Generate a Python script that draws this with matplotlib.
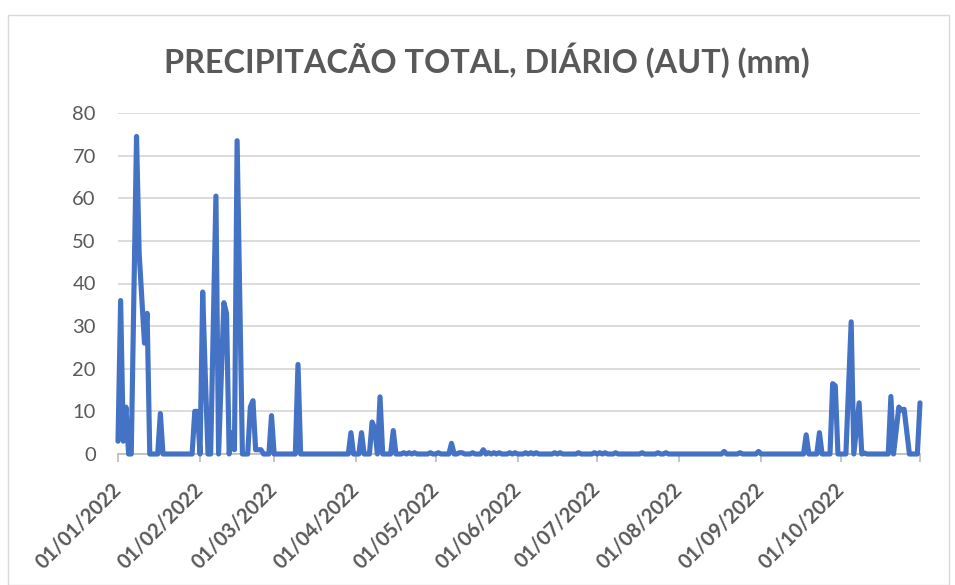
import numpy as np
import matplotlib
matplotlib.use("Agg")
import matplotlib.pyplot as plt
import matplotlib.dates as mdates
from matplotlib.patches import Rectangle
import datetime as dt

nan = np.nan
title = "PRECIPITACÃO TOTAL, DIÁRIO (AUT) (mm)"
start_date = "2022-01-01"

jan = [3, 36, 3, 11, 0, 0, nan, 74.5, 47, nan, 26, 33, 0, 0, 0, 0, 9.5, 0,
       0, 0, 0, 0, 0, 0, 0, 0, 0, 0, 0, 10, 10]
feb = [0, 38, 18, 0, 0, nan, 60.5, 0, nan, 35.5, 33, 0, 5, 1, 73.5, nan, 0, 0,
       0, 11, 12.5, 1, 1, 1, 0, 0, 0, 9]
mar = [0, 0, 0, 0, 0, 0, 0, 0, 0, 21, 0, 0, 0, 0, 0, 0, 0, 0, 0, 0, 0, 0, 0,
       0, 0, 0, 0, 0, 0, 5, 0]
apr = [0, 0, 5, 0, 0, 0, 7.5, 6, 0, 13.4, 0, 0, 0, 0, 5.5, 0, 0, 0, 0.3, 0,
       0.3, 0, 0.3, 0, 0, 0, 0, 0, 0.3, 0]
may = [0, 0.3, 0, 0, 0, 0, 2.5, 0, 0, 0.3, 0.3, 0, 0, 0, 0.3, 0, 0, 0, 1, 0,
       0.3, 0, 0.3, 0, 0.3, 0, 0, 0, 0.3, 0, 0.3]
jun = [0, 0, 0, 0.3, 0, 0.3, 0, 0.3, 0, 0, 0, 0, 0, 0, 0.3, 0, 0.3, 0, 0, 0,
       0, 0, 0, 0.3, 0, 0, 0, 0, 0, 0.3]
jul = [0, 0.3, 0, 0.3, 0, 0, 0, 0.3, 0, 0, 0, 0, 0, 0, 0, 0, 0, 0.3, 0, 0, 0,
       0, 0, 0.3, 0, 0, 0.3, 0, 0, 0, 0]
aug = [0, 0, 0, 0, 0, 0, 0, 0, 0, 0, 0, 0, 0, 0, 0, 0, 0, 0.6, 0, 0, 0, 0, 0,
       0.3, 0, 0, 0, 0, 0, 0, 0.6]
sep = [0, 0, 0, 0, 0, 0, 0, 0, 0, 0, 0, 0, 0, 0, 0, 0, 0, 4.5, 0, 0, 0, 0, 5,
       0, 0, 0, 0, 16.5, 16, 0]
oct_ = [0, 0, 0, nan, 31, 0, nan, 12, 0, 0.2, 0, 0, 0, 0, 0, 0, 0, 0, 0, 13.5,
        0, nan, 11, 10.3, 10.5, nan, 0, 0, 0, 0, 12]

y_ticks = [0, 10, 20, 30, 40, 50, 60, 70, 80]

values = np.array(jan + feb + mar + apr + may + jun + jul + aug + sep + oct_, dtype=float)
dates = np.array([np.datetime64(start_date) + np.timedelta64(i, "D") for i in range(len(values))])
mask = ~np.isnan(values)
xd = mdates.date2num(dates.astype("datetime64[D]").astype(dt.datetime))

W, H = 955, 585
fig = plt.figure(figsize=(W / 100, H / 100), dpi=100)
fig.patches.append(Rectangle((8 / W, 0), (949 - 8) / W, (585 - 15) / H, transform=fig.transFigure,
                             fill=False, edgecolor="#d9d9d9", lw=1.0))

ax = fig.add_axes([118 / W, (H - 454) / H, (920 - 118) / W, (454 - 113) / H])
ax.plot(xd[mask], values[mask], color="#4472C4", lw=3.7, solid_joinstyle="round",
        solid_capstyle="round", zorder=3, clip_on=False)

ax.set_ylim(0, 80)
ax.set_yticks(y_ticks)
ax.set_xlim(xd[0], xd[-1])
ax.grid(axis="y", color="#d9d9d9", lw=1.3)
ax.set_axisbelow(True)
for s in ["top", "right", "left"]:
    ax.spines[s].set_visible(False)
ax.spines["bottom"].set_color("#bfbfbf")
ax.spines["bottom"].set_linewidth(1.3)

month_ticks = [mdates.date2num(dt.datetime(2022, m, 1)) for m in range(1, 11)]
ax.set_xticks(month_ticks + [xd[-1]])
ax.set_xticklabels([mdates.num2date(t).strftime("%d/%m/%Y") for t in month_ticks] + [""],
                   rotation=45, ha="right", va="center", rotation_mode="anchor",
                   fontsize=14.5, fontweight="bold", color="#595959", family="Lato")
ax.tick_params(axis="x", length=6, width=1.3, color="#bfbfbf", pad=17)
ax.tick_params(axis="y", length=0, pad=16, labelsize=14.5, labelcolor="#595959")
for lab in ax.get_yticklabels():
    lab.set_family("Lato")

fig.text(487 / W, 1 - 60 / H, title, ha="center", va="center", fontsize=23.3,
         fontweight="bold", color="#595959", family="Lato")

fig.savefig("out.png", dpi=100)
